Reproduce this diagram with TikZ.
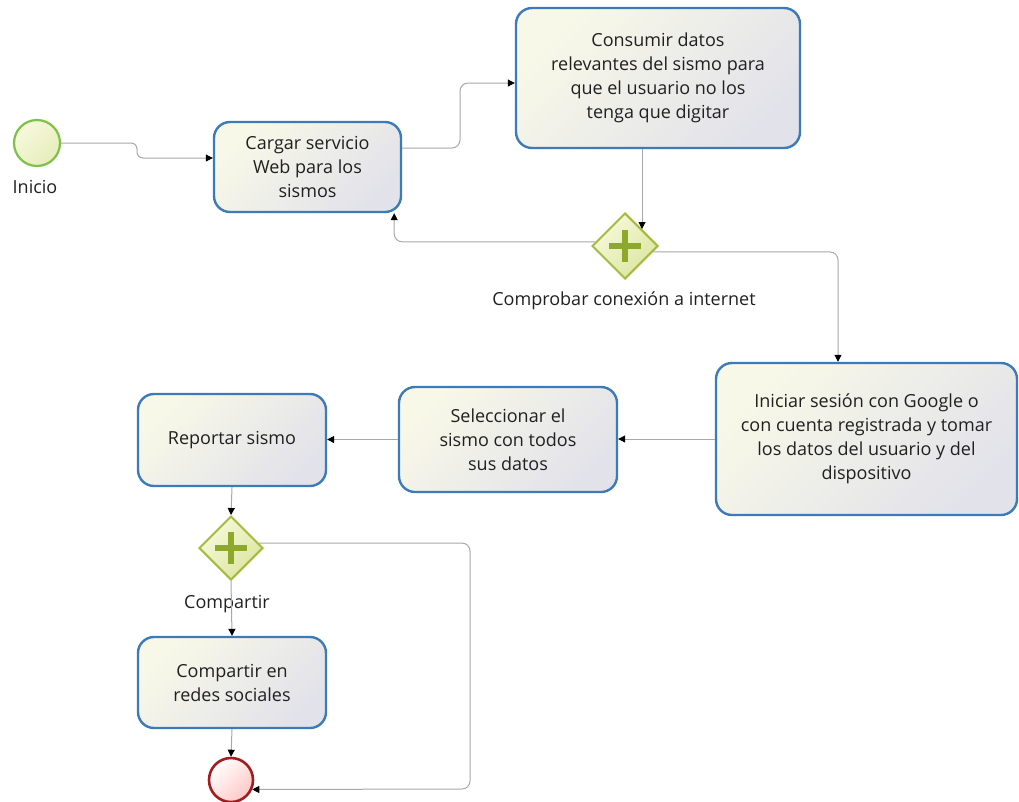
\documentclass[tikz,border=0pt]{standalone}
\usepackage{fontspec}
\setmainfont{Open Sans}
\usetikzlibrary{shapes.geometric,arrows.meta,calc}
\definecolor{taskblue}{HTML}{3D7AB8}
\definecolor{taskA}{HTML}{F8F8E8}
\definecolor{taskB}{HTML}{E2E2EA}
\definecolor{gwline}{HTML}{A4BC3E}
\definecolor{gwplus}{HTML}{8EA82C}
\definecolor{gwA}{HTML}{F7F9DC}
\definecolor{gwB}{HTML}{DCE5A0}
\definecolor{stline}{HTML}{7DC147}
\definecolor{enline}{HTML}{A01E22}
\definecolor{conn}{HTML}{A8A8A8}
\definecolor{txt}{HTML}{202020}
\tikzset{
  every node/.style={font=\fontsize{18}{24}\selectfont, text=txt},
  task/.style={draw=taskblue, line width=2.4pt, rounded corners=16pt,
    left color=taskA, right color=taskB, shading angle=45,
    align=center, inner sep=0pt},
  gate/.style={diamond, draw=gwline, line width=2pt, inner sep=0pt,
    minimum size=#1, shape aspect=1, left color=gwA, right color=gwB, shading angle=45},
  evstart/.style={circle, draw=stline, line width=2.2pt, minimum size=46pt, inner sep=0pt,
    left color=gwA, right color=gwB!70!white, shading angle=45},
  evend/.style={circle, draw=enline, line width=2.6pt, minimum size=44pt, inner sep=0pt,
    left color=white, right color=red!22!white, shading angle=45},
  flow/.style={draw=conn, line width=1pt, rounded corners=8pt,
    -{Triangle[color=black,length=7pt,width=7pt]}},
  lbl/.style={inner sep=0pt}
}
\begin{document}
\begin{tikzpicture}[x=1pt,y=-1pt]
\useasboundingbox (0,0) rectangle (1019,801);
% events
\node[evstart] (st) at (37,143) {};
\node[lbl] (stl) at (35,187) {Inicio};
\node[evend] (en) at (231,780) {};
% tasks
\node[task, minimum width=187pt, minimum height=90pt] (t1) at (307.5,167)
  {Cargar servicio\\Web para los\\sismos};
\node[task, minimum width=284pt, minimum height=140pt] (t2) at (658,78)
  {Consumir datos\\relevantes del sismo para\\que el usuario no los\\tenga que digitar};
\node[task, minimum width=301pt, minimum height=152pt] (t3) at (866.5,439)
  {Iniciar sesión con Google o\\con cuenta registrada y tomar\\los datos del usuario y del\\dispositivo};
\node[task, minimum width=218pt, minimum height=105pt] (t4) at (508,439.5)
  {Seleccionar el\\sismo con todos\\sus datos};
\node[task, minimum width=188pt, minimum height=92pt] (t5) at (232,440)
  {Reportar sismo};
\node[task, minimum width=188pt, minimum height=91pt] (t6) at (232,682.5)
  {Compartir en\\redes sociales};
% gateways
\node[gate=66pt] (g1) at (625,246) {};
\draw[gwplus, line width=6pt] ($(g1.center)+(-16,0)$) -- ($(g1.center)+(16,0)$)
  ($(g1.center)+(0,-16)$) -- ($(g1.center)+(0,16)$);
\node[lbl] (g1l) at (624,301) {Comprobar conexión a internet};
\node[gate=64pt] (g2) at (231,548) {};
\draw[gwplus, line width=6pt] ($(g2.center)+(-16,0)$) -- ($(g2.center)+(16,0)$)
  ($(g2.center)+(0,-16)$) -- ($(g2.center)+(0,16)$);
\node[lbl] (g2l) at (227,604) {Compartir};
% flows
\coordinate (a1) at (137,143);
\coordinate (a2) at (137,158);
\draw[flow, rounded corners=6pt] (st.east) -- (a1) -- (a2) -- (a2 -| t1.west);
\coordinate (b1) at (460,148);
\coordinate (b2) at (460,83);
\draw[flow] (b1 -| t1.east) -- (b1) -- (b2) -- (b2 -| t2.west);
\draw[flow] (t2.south -| g1.north east) -- (g1.north east);
\draw[flow] (g1.172) -| ([xshift=-8pt]t1.south east);
\draw[flow] (g1.-12) -| ([xshift=-28.5pt]t3.north);
\draw[flow] (t3.west) -- (t3.west -| t4.east);
\draw[flow] (t4.west) -- (t4.west -| t5.east);
\draw[flow] (t5.south) -- (g2.north);
\draw[flow] (g2.south) -- (t6.north);
\coordinate (k1) at (470,789);
\draw[flow] (g2.10) -| (k1) -- (en.-24);
\draw[flow] (t6.south) -- (en.north);
\end{tikzpicture}
\end{document}
